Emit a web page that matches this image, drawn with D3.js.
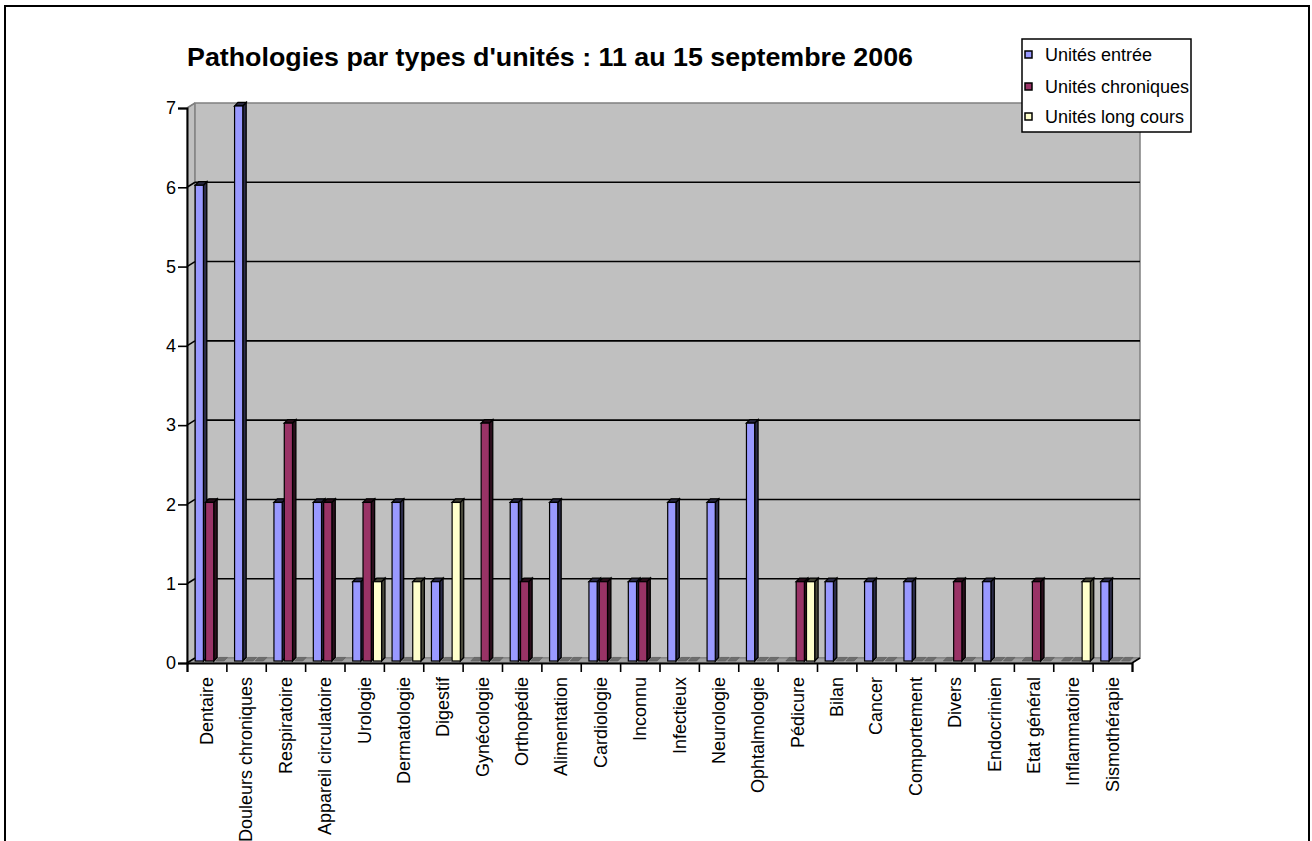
<!DOCTYPE html>
<html>
<head>
<meta charset="utf-8">
<script src="https://cdn.jsdelivr.net/npm/d3@7"></script>
<style>
  html, body { margin: 0; padding: 0; background: #fff; }
  svg { display: block; }
  text { font-family: "Liberation Sans", Arial, sans-serif; fill: #000; }
</style>
</head>
<body>
<svg id="chart" width="1312" height="841"></svg>
<script>
// Pathologies per unit type, week of 11–15 September 2006
const categories = [
  "Dentaire", "Douleurs chroniques", "Respiratoire", "Appareil circulatoire",
  "Urologie", "Dermatologie", "Digestif", "Gynécologie", "Orthopédie",
  "Alimentation", "Cardiologie", "Inconnu", "Infectieux", "Neurologie",
  "Ophtalmologie", "Pédicure", "Bilan", "Cancer", "Comportement", "Divers",
  "Endocrinien", "Etat général", "Inflammatoire", "Sismothérapie"
];
const seriesNames = ["Unités entrée", "Unités chroniques", "Unités long cours"];
const unitesEntree     = [6, 7, 2, 2, 1, 2, 1, 0, 2, 2, 1, 1, 2, 2, 3, 0, 1, 1, 1, 0, 1, 0, 0, 1];
const unitesChroniques = [2, 0, 3, 2, 2, 0, 0, 3, 1, 0, 1, 1, 0, 0, 0, 1, 0, 0, 0, 1, 0, 1, 0, 0];
const unitesLongCours  = [0, 0, 0, 0, 1, 1, 2, 0, 0, 0, 0, 0, 0, 0, 0, 1, 0, 0, 0, 0, 0, 0, 1, 0];
const seriesValues = [unitesEntree, unitesChroniques, unitesLongCours];
const seriesColors = ["#9999ff", "#993366", "#ffffcc"];
const yTicks = [0, 1, 2, 3, 4, 5, 6, 7];
const titleText = "Pathologies par types d'unités : 11 au 15 septembre 2006";

const svg = d3.select("#chart");

// outer frame
svg.append("rect")
  .attr("x", 5).attr("y", 6).attr("width", 1304).attr("height", 900)
  .attr("fill", "#fff").attr("stroke", "#000").attr("stroke-width", 2);

// plot geometry
const plotLeft = 187, plotRight = 1132, plotBottom = 663, plotTop = 108;
const depth = { dx: 8, dy: -5 };     // wall depth offset
const barDepth = { dx: 3.4, dy: -3.6 };
const y = d3.scaleLinear().domain([0, 7]).range([plotBottom, plotTop]);
const x = d3.scaleBand().domain(categories).range([plotLeft, plotRight]);
const xIdx = d3.scaleLinear().domain([0, categories.length]).range([plotLeft, plotRight]);
const xs = d3.scaleBand().domain(seriesNames).range([0, 31]);
const faceW = 8.2;

// side wall
svg.append("polygon")
  .attr("points", [[plotLeft, y(7)], [plotLeft + depth.dx, y(7) + depth.dy], [plotLeft + depth.dx, plotBottom + depth.dy], [plotLeft, plotBottom]].join(" "))
  .attr("fill", "#c0c0c0").attr("stroke", "#808080");
// back wall
svg.append("rect")
  .attr("x", plotLeft + depth.dx).attr("y", y(7) + depth.dy)
  .attr("width", plotRight - plotLeft).attr("height", plotBottom - plotTop)
  .attr("fill", "#c0c0c0").attr("stroke", "#808080").attr("stroke-width", 1.5);
// floor
svg.append("polygon")
  .attr("points", [[plotLeft, plotBottom], [plotRight, plotBottom], [plotRight + depth.dx, plotBottom + depth.dy], [plotLeft + depth.dx, plotBottom + depth.dy]].join(" "))
  .attr("fill", "#a0a0a0").attr("stroke", "#808080");

// gridlines on the back wall
svg.append("g").selectAll("line")
  .data(yTicks.filter(v => v > 0 && v < 7))
  .join("line")
  .attr("x1", plotLeft + depth.dx).attr("x2", plotRight + depth.dx)
  .attr("y1", v => y(v) + depth.dy).attr("y2", v => y(v) + depth.dy)
  .attr("stroke", "#000").attr("stroke-width", 1.6);
// connectors across the side wall
svg.append("g").selectAll("line")
  .data(yTicks)
  .join("line")
  .attr("x1", plotLeft).attr("x2", plotLeft + depth.dx)
  .attr("y1", v => y(v)).attr("y2", v => y(v) + depth.dy)
  .attr("stroke", v => v === 7 ? "#808080" : "#000").attr("stroke-width", 1.6);
// connector at the floor's right end
svg.append("line")
  .attr("x1", plotRight).attr("y1", plotBottom)
  .attr("x2", plotRight + depth.dx).attr("y2", plotBottom + depth.dy)
  .attr("stroke", "#000").attr("stroke-width", 1.6);

// bars
const bars = svg.append("g");
categories.forEach((cat, ci) => {
  seriesNames.forEach((s, si) => {
    const v = seriesValues[si][ci];
    const fx = x(cat) + 8.2 + xs(s);
    const fb = y(0) - 2;
    const g = bars.append("g");
    if (v === 0) {
      g.append("polygon")
        .attr("points", [[fx, fb], [fx + faceW, fb], [fx + faceW + barDepth.dx, fb + barDepth.dy], [fx + barDepth.dx, fb + barDepth.dy]].join(" "))
        .attr("fill", "#6e6e6e").attr("stroke", "#5a5a5a").attr("stroke-width", 0.6);
      return;
    }
    const ft = y(v) - 2;
    const c = d3.color(seriesColors[si]);
    g.append("polygon")
      .attr("points", [[fx + faceW, ft], [fx + faceW + barDepth.dx, ft + barDepth.dy], [fx + faceW + barDepth.dx, fb + barDepth.dy], [fx + faceW, fb]].join(" "))
      .attr("fill", c.darker(3.5)).attr("stroke", "#000").attr("stroke-width", 1.3);
    g.append("polygon")
      .attr("points", [[fx, ft], [fx + faceW, ft], [fx + faceW + barDepth.dx, ft + barDepth.dy], [fx + barDepth.dx, ft + barDepth.dy]].join(" "))
      .attr("fill", c.darker(4)).attr("stroke", "#000").attr("stroke-width", 1.3);
    g.append("rect")
      .attr("x", fx).attr("y", ft).attr("width", faceW).attr("height", fb - ft)
      .attr("fill", c).attr("stroke", "#000").attr("stroke-width", 1.2);
  });
});

// y axis
const yAxis = svg.append("g")
  .attr("transform", `translate(${plotLeft},0)`)
  .call(d3.axisLeft(y).tickValues(yTicks).tickSize(9).tickPadding(2).tickFormat(d3.format("d")));
yAxis.select(".domain").attr("stroke", "#000").attr("stroke-width", 2);
yAxis.selectAll(".tick line").attr("stroke", "#000").attr("stroke-width", 1.6);
yAxis.selectAll(".tick text")
  .style("font-family", "'Liberation Sans', Arial, sans-serif")
  .style("font-size", "18px").attr("fill", "#000");

// x axis: ticks at category boundaries
const xAxis = svg.append("g")
  .attr("transform", `translate(0,${plotBottom})`)
  .call(d3.axisBottom(xIdx).tickValues(d3.range(categories.length + 1)).tickSize(9).tickFormat(""));
xAxis.select(".domain").attr("stroke", "#000").attr("stroke-width", 2);
xAxis.selectAll(".tick line").attr("stroke", "#000").attr("stroke-width", 1.6);

// category labels, rotated
svg.append("g").selectAll("text")
  .data(categories)
  .join("text")
  .attr("transform", d => `translate(${x(d) + x.bandwidth() / 2},677) rotate(-90)`)
  .attr("text-anchor", "end")
  .attr("dy", "0.35em")
  .style("font-size", "18px")
  .text(d => d);

// title
svg.append("text")
  .attr("x", 187).attr("y", 66)
  .attr("textLength", 726).attr("lengthAdjust", "spacingAndGlyphs")
  .style("font-size", "26px").style("font-weight", "bold")
  .text(titleText);

// legend
const legend = svg.append("g");
legend.append("rect")
  .attr("x", 1022).attr("y", 39).attr("width", 169).attr("height", 93)
  .attr("fill", "#fff").attr("stroke", "#000").attr("stroke-width", 1.5);
const legendY = [55, 87, 117];
seriesNames.forEach((s, i) => {
  legend.append("rect")
    .attr("x", 1025).attr("y", legendY[i] - 4).attr("width", 7).attr("height", 7)
    .attr("fill", seriesColors[i]).attr("stroke", "#000").attr("stroke-width", 1.5);
  legend.append("text")
    .attr("x", 1045).attr("y", legendY[i] + 6)
    .style("font-size", "18px")
    .text(s);
});
</script>
</body>
</html>
